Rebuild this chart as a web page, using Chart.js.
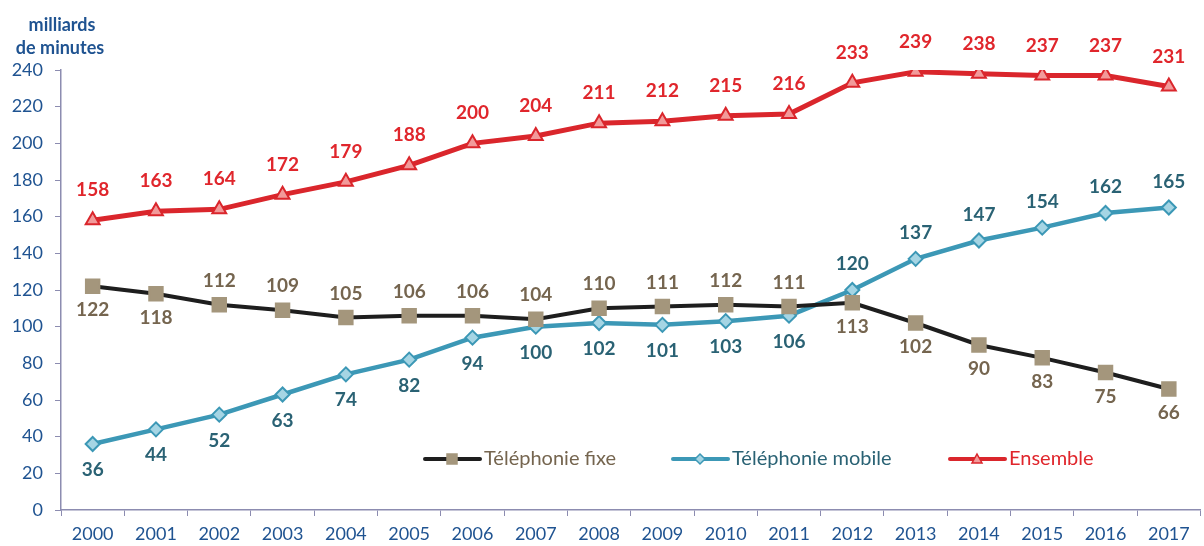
<!DOCTYPE html>
<html>
<head>
<meta charset="utf-8">
<script src="https://cdn.jsdelivr.net/npm/chart.js@4/dist/chart.umd.min.js"></script>
<style>
    body { margin: 0; overflow: hidden; background: #fff; }
    #wrap { position: relative; width: 1212px; height: 546px; }
</style>
</head>
<body>
<div id="wrap"><canvas id="chart"></canvas></div>
<script>
const years = ['2000', '2001', '2002', '2003', '2004', '2005', '2006', '2007', '2008',
    '2009', '2010', '2011', '2012', '2013', '2014', '2015', '2016', '2017'];
const fixe = [122, 118, 112, 109, 105, 106, 106, 104, 110, 111, 112, 111, 113, 102, 90, 83, 75, 66];
const mobile = [36, 44, 52, 63, 74, 82, 94, 100, 102, 101, 103, 106, 120, 137, 147, 154, 162, 165];
const ensemble = [158, 163, 164, 172, 179, 188, 200, 204, 211, 212, 215, 216, 233, 239, 238, 237, 237, 231];

// where each value label sits: 1 = above the point, -1 = below
const fixeSide = [-1, -1, 1, 1, 1, 1, 1, 1, 1, 1, 1, 1, -1, -1, -1, -1, -1, -1];
const mobileSide = [-1, -1, -1, -1, -1, -1, -1, -1, -1, -1, -1, -1, 1, 1, 1, 1, 1, 1];
const ensembleSide = years.map(() => 1);

const AXIS = '#8c8cb0';
const TICK = '#1f5391';
const FONT = 'Lato, "Open Sans", sans-serif';

const series = [
    { label: 'Téléphonie fixe', data: fixe, side: fixeSide, line: '#1e1e1e', width: 4, fill: '#a4967c',
      border: '#a4967c', style: 'rect', radius: 9.5, text: '#75654f', gap: 24, legendX: 425 },
    { label: 'Téléphonie mobile', data: mobile, side: mobileSide, line: '#3c98b6', width: 4.5, fill: '#a5d5e4',
      border: '#3c98b6', style: 'rectRot', radius: 7, text: '#2a6274', gap: 26, legendX: 673 },
    { label: 'Ensemble', data: ensemble, side: ensembleSide, line: '#da262c', width: 5, fill: '#f29a9a',
      border: '#da262c', style: 'triangle', radius: 8, text: '#e0262c', gap: 30, legendX: 950 }
];

// value labels next to every point
const valueLabels = {
    id: 'valueLabels',
    afterDatasetsDraw(chart) {
        let ctx = chart.ctx;
        ctx.save();
        ctx.font = 'bold 19px ' + FONT;
        ctx.textAlign = 'center';
        ctx.textBaseline = 'middle';
        chart.data.datasets.forEach((ds, d) => {
            let s = series[d];
            chart.getDatasetMeta(d).data.forEach((pt, i) => {
                let x = Math.min(pt.x, 1169);
                let y = pt.y - s.side[i] * s.gap;
                ctx.fillStyle = s.text;
                ctx.fillText(ds.data[i], x, y);
            });
        });
        ctx.restore();
    }
};

function drawShape(ctx, style, x, y, r) {
    if (style === 'rect') {
        ctx.rect(x - r, y - r, 2 * r, 2 * r);
    } else if (style === 'rectRot') {
        ctx.moveTo(x, y - r);
        ctx.lineTo(x + r, y);
        ctx.lineTo(x, y + r);
        ctx.lineTo(x - r, y);
        ctx.closePath();
    } else {
        ctx.moveTo(x, y - r);
        ctx.lineTo(x + r, y + r * 0.8);
        ctx.lineTo(x - r, y + r * 0.8);
        ctx.closePath();
    }
}

// legend inside the plot, plus the unit title
const extras = {
    id: 'extras',
    afterDraw(chart) {
        let ctx = chart.ctx;
        ctx.save();
        ctx.fillStyle = TICK;
        ctx.font = 'bold 18px ' + FONT;
        ctx.textAlign = 'center';
        ctx.textBaseline = 'middle';
        ctx.fillText('milliards', 62, 25);
        ctx.fillText('de minutes', 60, 48);

        let y = 459;
        series.forEach((s) => {
            ctx.strokeStyle = s.line;
            ctx.lineWidth = 4;
            ctx.lineCap = 'round';
            ctx.beginPath();
            ctx.moveTo(s.legendX, y);
            ctx.lineTo(s.legendX + 55, y);
            ctx.stroke();
            ctx.fillStyle = s.fill;
            ctx.strokeStyle = s.border;
            ctx.lineWidth = 1.5;
            ctx.beginPath();
            drawShape(ctx, s.style, s.legendX + 27, y, 5);
            ctx.fill();
            ctx.stroke();
            ctx.fillStyle = s.text;
            ctx.font = '20px ' + FONT;
            ctx.textAlign = 'left';
            ctx.fillText(s.label, s.legendX + 59, y);
        });
        ctx.restore();
    }
};

new Chart(document.getElementById('chart').getContext('2d'), {
    type: 'line',
    data: {
        labels: years,
        datasets: series.map((s) => ({
            label: s.label,
            data: s.data,
            borderColor: s.line,
            borderWidth: s.width,
            pointStyle: s.style,
            pointRadius: s.radius,
            pointBackgroundColor: s.fill,
            pointBorderColor: s.border,
            pointBorderWidth: 2,
            tension: 0
        }))
    },
    options: {
        responsive: true,
        maintainAspectRatio: false,
        animation: false,
        layout: { padding: { top: 70, left: 0, right: 0, bottom: 0 } },
        plugins: {
            legend: { display: false },
            tooltip: { enabled: false }
        },
        scales: {
            x: {
                offset: true,
                grid: { offset: true, drawOnChartArea: false, tickLength: 6, color: AXIS },
                border: { color: AXIS, width: 1.5 },
                ticks: { color: TICK, font: { family: FONT, size: 18 }, padding: 7, maxRotation: 0 },
                afterFit: (scale) => { scale.height = 36; }
            },
            y: {
                min: 0,
                max: 240,
                grid: { drawOnChartArea: false, tickLength: 6, color: AXIS },
                border: { color: AXIS, width: 1.5 },
                ticks: { stepSize: 20, color: TICK, font: { family: FONT, size: 18 }, padding: 12 },
                afterFit: (scale) => { scale.width = 61; }
            }
        }
    },
    plugins: [valueLabels, extras]
});
</script>
</body>
</html>
